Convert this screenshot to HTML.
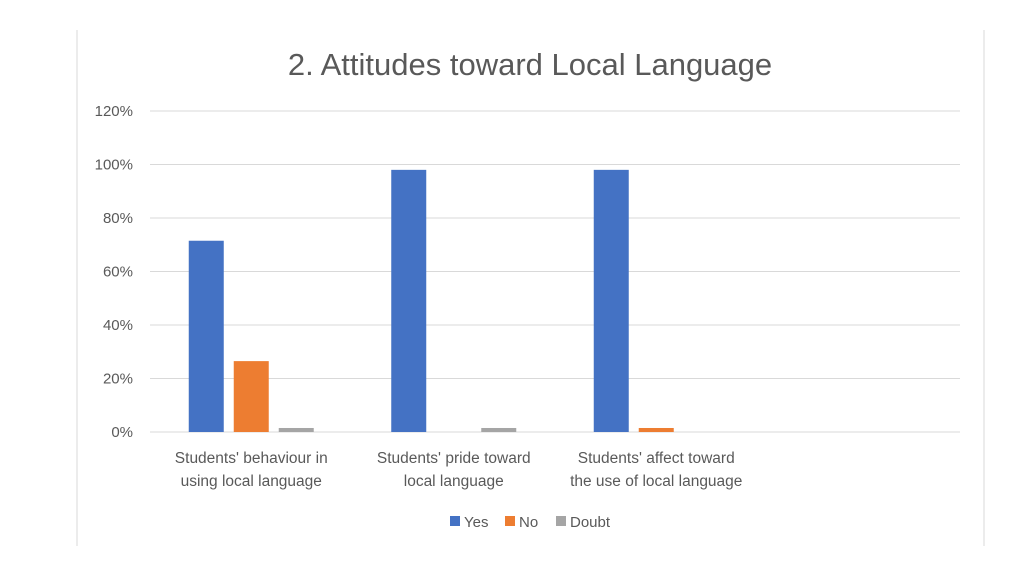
<!DOCTYPE html>
<html><head><meta charset="utf-8"><style>
body{margin:0;background:#fff;font-family:"Liberation Sans",sans-serif;}
svg{display:block}
text{fill:#595959;font-family:"Liberation Sans",sans-serif}
</style></head><body>
<svg id="chart" width="1024" height="576" xmlns="http://www.w3.org/2000/svg">
<line x1="77" y1="30" x2="77" y2="546" stroke="#d9d9d9"/>
<line x1="984" y1="30" x2="984" y2="546" stroke="#d9d9d9"/>
<text x="530" y="75" font-size="31" text-anchor="middle">2. Attitudes toward Local Language</text>
<g id="grid"></g><g id="bars"></g><g id="xlabels"></g>
<g>
<rect x="450" y="516" width="10" height="10" fill="#4472c4"/>
<text x="464" y="527" font-size="15">Yes</text>
<rect x="505" y="516" width="10" height="10" fill="#ed7d31"/>
<text x="519" y="527" font-size="15">No</text>
<rect x="556" y="516" width="10" height="10" fill="#a5a5a5"/>
<text x="570" y="527" font-size="15">Doubt</text>
</g>
</svg>
<script>
const categories=[["Students' behaviour in","using local language"],["Students' pride toward","local language"],["Students' affect toward","the use of local language"],["",""]];
const yesValues=[71.5,98,98,0];
const noValues=[26.5,0,1.5,0];
const doubtValues=[1.5,1.5,0,0];
const tickLabels=["0%","20%","40%","60%","80%","100%","120%"];
const tickValues=[0,20,40,60,80,100,120];
const NS="http://www.w3.org/2000/svg";
const x0=150,x1=960,y0=432,y1=111,ymax=120;
const y=v=>y0-(v/ymax)*(y0-y1);
const cw=(x1-x0)/categories.length;
function mk(tag,attrs,parent){const e=document.createElementNS(NS,tag);for(const k in attrs)e.setAttribute(k,attrs[k]);parent.appendChild(e);return e;}
const grid=document.getElementById('grid');
tickValues.forEach((t,i)=>{
 const l=mk('line',{x1:x0,x2:x1,y1:y(t),y2:y(t),stroke:'#d9d9d9','stroke-width':1},grid);
 
 
 const tx=mk('text',{x:133,y:y(t)+5,'font-size':15,'text-anchor':'end'},grid);
 tx.textContent=tickLabels[i];
 
 
});
const bars=document.getElementById('bars');
const series=[[yesValues,'#4472c4','yes'],[noValues,'#ed7d31','no'],[doubtValues,'#a5a5a5','doubt']];
const bw=35,gap=10,gw=bw*3+gap*2;
categories.forEach((c,i)=>{
 const sx=x0+i*cw+(cw-gw)/2;
 series.forEach((s,j)=>{
  const v=s[0][i]; if(!v)return;
  const r=mk('rect',{x:sx+j*(bw+gap),y:y(v),width:bw,height:y0-y(v),fill:s[1]},bars);
  
  
 });
 const xl=document.getElementById('xlabels');
 c.forEach((line,k)=>{
  const t=mk('text',{x:x0+i*cw+cw/2,y:463+k*23,'font-size':15.5,'text-anchor':'middle'},xl);
  t.textContent=line;
  
  
 });
});
</script>
</body></html>
